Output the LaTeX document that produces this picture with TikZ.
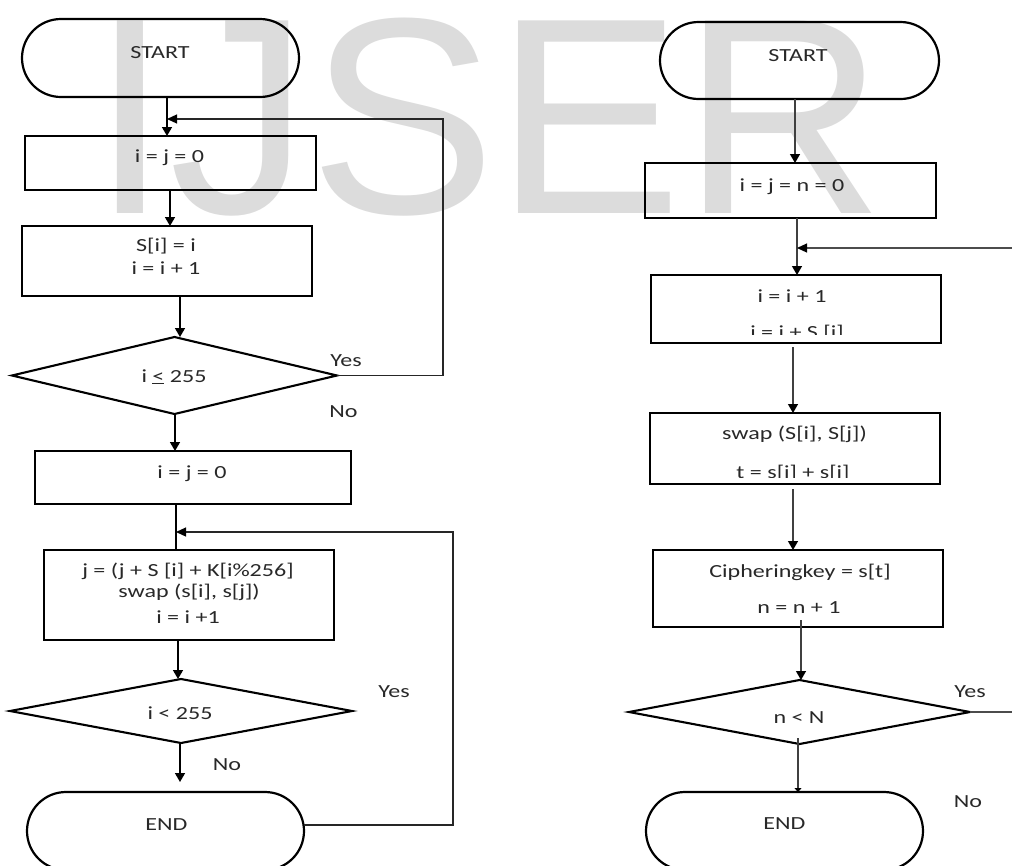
\documentclass[tikz,border=0pt]{standalone}
\usepackage{fontspec}
\setmainfont{Carlito}[FakeStretch=1.3]
\newfontfamily\wmfont{Liberation Sans}
\usetikzlibrary{arrows.meta,shapes.geometric,shapes.misc}
\definecolor{wmgray}{RGB}{220,220,220}
\definecolor{txtc}{RGB}{40,40,40}
\tikzset{
  procbox/.style={draw=black, line width=2.8pt, rectangle, inner sep=0pt, outer sep=0pt},
  termbox/.style={draw=black, line width=2.2pt, rounded rectangle, inner sep=0pt, outer sep=0pt},
  decbox/.style={draw=black, line width=2.1pt, diamond, inner sep=0pt, outer sep=0pt},
  txt/.style={inner sep=0pt, anchor=base, text=txtc, font=\fontsize{18.5}{22}\selectfont},
  wm/.style={inner sep=0pt, anchor=base west, text=wmgray, font=\wmfont\fontsize{280}{280}\selectfont},
  arr/.style={line width=1.5pt, draw=black, -{Triangle[width=10pt,length=9pt]}},
  rarr/.style={line width=1.3pt, draw=black!75, -{Triangle[width=10pt,length=9pt,fill=black,color=black]}},
  plainline/.style={line width=1.5pt, draw=black},
  loopl/.style={line width=1.2pt, draw=black!85, -{Triangle[width=9pt,length=10pt,fill=black,color=black]}},
  rloop/.style={line width=1.2pt, draw=black!70, -{Triangle[width=9pt,length=10pt,fill=black,color=black]}},
  outline/.style={line width=1.2pt, draw=black!70},
}
\begin{document}
\begin{tikzpicture}[x=1pt,y=-1pt]
\useasboundingbox (0,0) rectangle (1012,865);
% watermark
\node[wm] (wmark) at (91,213) {IJSER};

% ---------------- left flowchart ----------------
\node[termbox, minimum width=277, minimum height=78] (ls) at (160.5,58) {};
\node[txt] (tls) at (160,58) {START};

\node[procbox, minimum width=291, minimum height=54] (lb1) at (170.5,163) {};
\node[txt] (tlb1) at (169.5,162) {i = j = 0};

\node[procbox, minimum width=290, minimum height=70] (lb2) at (167,261) {};
\node[txt] (tlb2a) at (166,251) {S[i] = i};
\node[txt] (tlb2b) at (166,274) {i = i + 1};

\node[decbox, minimum width=325, minimum height=77] (ld1) at (174.5,375.5) {};
\node[txt] (tld1) at (174,382) {i \underline{<} 255};
\node[txt] (yes1) at (346,366) {Yes};
\node[txt] (no1) at (343.5,417) {No};

\node[procbox, minimum width=316, minimum height=53] (lb3) at (193,477.5) {};
\node[txt] (tlb3) at (192,478) {i = j = 0};

\node[procbox, minimum width=290, minimum height=90] (lb4) at (189,595) {};
\node[txt] (tlb4a) at (188,576) {j = (j + S [i] + K[i\%256]};
\node[txt] (tlb4b) at (189,597) {swap  (s[i], s[j])};
\node[txt] (tlb4c) at (188,623) {i = i +1};

\node[decbox, minimum width=342, minimum height=64] (ld2) at (181,711) {};
\node[txt] (tld2) at (180,719) {i < 255};
\node[txt] (yes2) at (394,697) {Yes};
\node[txt] (no2) at (227,770) {No};

\node[termbox, minimum width=277, minimum height=78] (le) at (165.5,831) {};
\node[txt] (tle) at (166.5,830) {END};

% left connectors
\coordinate (k1) at (443,119);
\coordinate (j1) at (167,119);
\coordinate (k2) at (453,532);
\coordinate (j2) at (176,532);
\draw[arr] ([xshift=6.5]ls.south) -- ([xshift=-3.5]lb1.north);
\draw[loopl] (ld1.east) -| (k1) -- (j1);
\draw[arr] ([xshift=-0.5]lb1.south) -- ([xshift=3]lb2.north);
\draw[arr] ([xshift=13]lb2.south) -- ([xshift=5.5]ld1.north);
\draw[arr] ([xshift=0.5]ld1.south) -- ([xshift=-18]lb3.north);
\draw[plainline] ([xshift=-17]lb3.south) -- ([xshift=-13]lb4.north);
\draw[loopl] ([yshift=6]le.east) -| (k2) -- (j2);
\draw[arr] ([xshift=-11]lb4.south) -- ([xshift=-3]ld2.north);
\draw[arr] ([xshift=-1]ld2.south) -- ([xshift=14.5,yshift=10]le.north);

% ---------------- right flowchart ----------------
\node[termbox, minimum width=279, minimum height=77] (rs) at (799.5,60.5) {};
\node[txt] (trs) at (798,61) {START};

\node[procbox, minimum width=291, minimum height=55] (rb1) at (790.5,190.5) {};
\node[txt] (trb1) at (792,191) {i = j = n = 0};

\node[procbox, minimum width=290, minimum height=68] (rb2) at (796,309) {};
\node[txt] (trb2a) at (792,302) {i = i + 1};
\begin{scope}
  \clip (700,318) rectangle (900,334.5);
  \node[txt] (trb2b) at (797,338) {i = i + S [i]};
\end{scope}

\node[procbox, minimum width=290, minimum height=71] (rb3) at (795,448.5) {};
\node[txt] (trb3a) at (794.5,439) {swap  (S[i], S[j])};
\begin{scope}
  \clip (700,455) rectangle (900,477.5);
  \node[txt] (trb3b) at (793,478) {t = s[i] + s[i]};
\end{scope}

\node[procbox, minimum width=290, minimum height=77] (rb4) at (798,588.5) {};
\node[txt] (trb4a) at (800,577) {Cipheringkey = s[t]};
\node[txt] (trb4b) at (799,613) {n = n + 1};

\node[decbox, minimum width=341, minimum height=64] (rd) at (799.5,712) {};
\node[txt] (trd) at (799,723) {n < N};
\node[txt] (yes3) at (970,697) {Yes};
\node[txt] (no3) at (968,807) {No};

\node[termbox, minimum width=277, minimum height=78] (re) at (784.5,831) {};
\node[txt] (tre) at (784.5,829) {END};

% right connectors
\coordinate (r1) at (1012,248);
\coordinate (j3) at (797,248);
\coordinate (r2) at (1012,712);
\draw[rarr] ([xshift=-4.5]rs.south) -- ([xshift=4.5]rb1.north);
\draw[rarr] ([xshift=6.5]rb1.south) -- ([xshift=1]rb2.north);
\draw[rloop] (r1) -- (j3);
\draw[rarr] ([xshift=-3,yshift=-4]rb2.south) -- ([xshift=-2]rb3.north);
\draw[rarr] ([xshift=-2,yshift=-5]rb3.south) -- ([xshift=-5]rb4.north);
\draw[rarr] ([xshift=3,yshift=7]rb4.south) -- ([xshift=1.5]rd.north);
\draw[outline] (rd.east) -- (r2);
\draw[line width=1.3pt, draw=black!75, -{Triangle[width=7pt,length=4pt,fill=black,color=black]}] ([xshift=-1.5,yshift=6]rd.south) -- ([xshift=13.5]re.north);
\end{tikzpicture}
\end{document}
